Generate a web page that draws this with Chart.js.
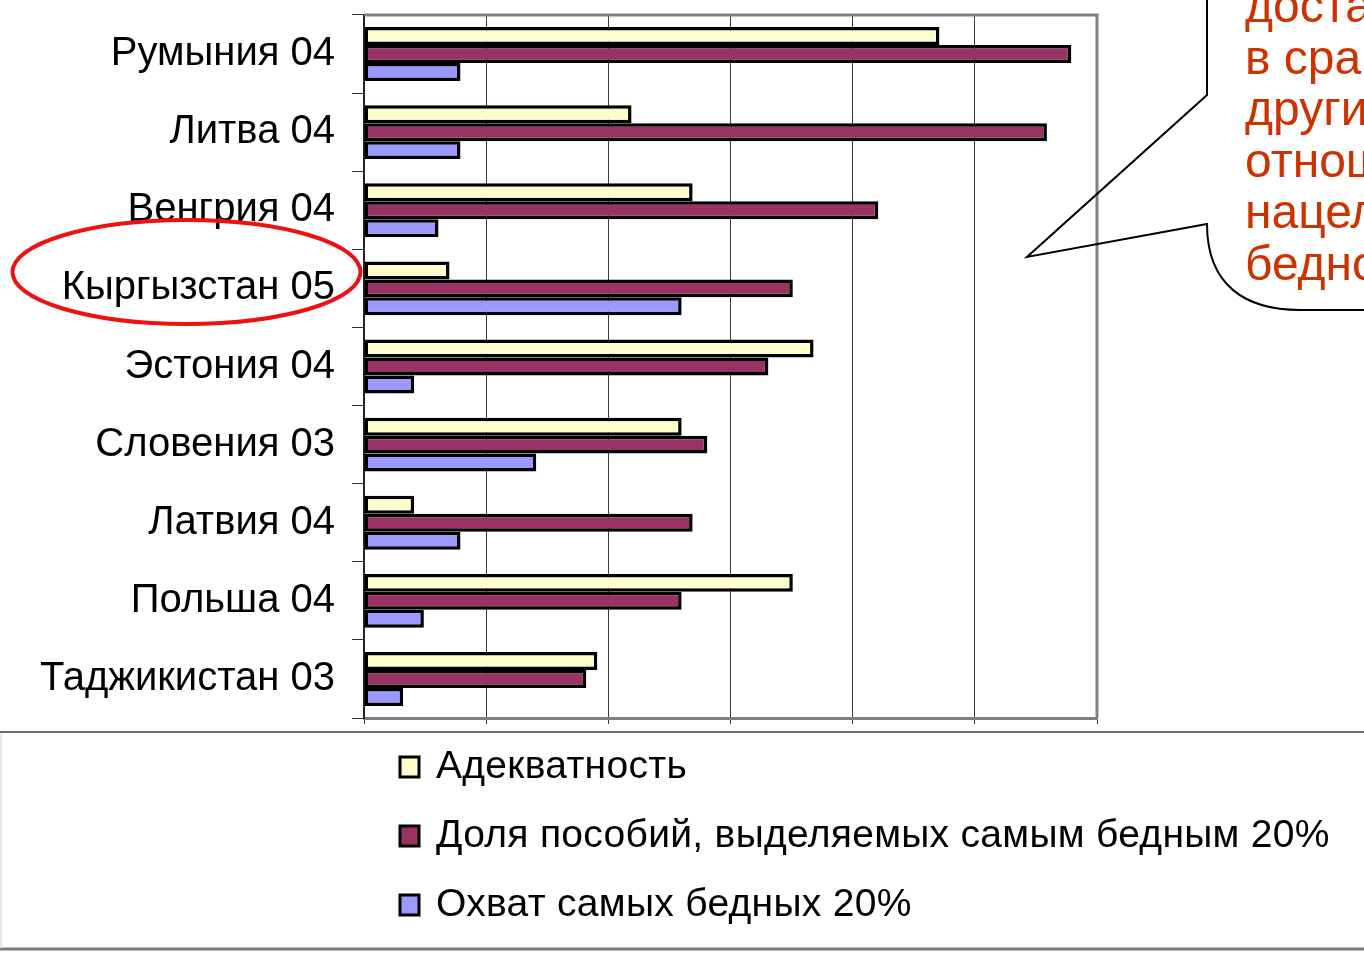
<!DOCTYPE html>
<html>
<head>
<meta charset="utf-8">
<script src="https://cdn.jsdelivr.net/npm/chart.js@4"></script>
<style>
html,body{margin:0;padding:0;background:#fff;}
#wrap{position:relative;width:1364px;height:954px;}
</style>
</head>
<body>
<div id="wrap"><canvas id="c" width="1364" height="954"></canvas></div>
<script>
const categories = ["Румыния 04","Литва 04","Венгрия 04","Кыргызстан 05","Эстония 04","Словения 03","Латвия 04","Польша 04","Таджикистан 03"];
const seriesNames = ["Адекватность","Доля пособий, выделяемых самым бедным 20%","Охват самых бедных 20%"];
const adequacy = [47.1, 21.9, 26.9, 7.0, 36.8, 26.0, 4.1, 35.1, 19.1];
const shareToPoorest = [57.9, 55.9, 42.1, 35.1, 33.1, 28.1, 26.9, 26.0, 18.2];
const coveragePoorest = [7.9, 7.9, 6.1, 26.0, 4.1, 14.1, 7.9, 4.9, 3.2];
const xMin = 0, xMax = 60, xStep = 10;
const calloutLines = ["достаточно высокой","в сравнении с","другими странами","отношении","нацеленности на","бедного населения"];

const colors = ["#FFFFCC","#993366","#9999FF"];
const FONT = "'Liberation Sans', Arial, sans-serif";

const decor = {
  id: 'decor',
  afterDraw(chart) {
    const ctx = chart.ctx;
    const a = chart.chartArea;
    ctx.save();
    // plot frame top & right
    ctx.strokeStyle = '#808080';
    ctx.lineWidth = 3;
    ctx.beginPath();
    ctx.moveTo(a.left, a.top);
    ctx.lineTo(a.right, a.top);
    ctx.lineTo(a.right, a.bottom);
    ctx.stroke();

    // legend box lines
    ctx.strokeStyle = '#6e6e6e';
    ctx.lineWidth = 2;
    ctx.beginPath(); ctx.moveTo(0, 732); ctx.lineTo(1364, 732); ctx.stroke();
    ctx.lineWidth = 3;
    ctx.strokeStyle = '#7a7a7a';
    ctx.beginPath(); ctx.moveTo(0, 949); ctx.lineTo(1364, 949); ctx.stroke();
    ctx.strokeStyle = '#e6e6e6';
    ctx.lineWidth = 2;
    ctx.beginPath(); ctx.moveTo(1, 733); ctx.lineTo(1, 948); ctx.stroke();

    // legend items
    const ys = [767, 836, 905];
    chart.data.datasets.forEach((ds, i) => {
      const y = ys[i];
      ctx.fillStyle = ds.backgroundColor;
      ctx.fillRect(400, y - 10, 19, 20);
      ctx.strokeStyle = '#000';
      ctx.lineWidth = 3;
      ctx.strokeRect(400, y - 10, 19, 20);
      ctx.fillStyle = '#000';
      ctx.font = '39px ' + FONT;
      ctx.letterSpacing = '0.3px';
      ctx.textBaseline = 'middle';
      ctx.textAlign = 'left';
      ctx.fillText(ds.label, 436, y);
      ctx.letterSpacing = '0px';
    });

    // callout bubble
    ctx.strokeStyle = '#000';
    ctx.lineWidth = 2;
    ctx.beginPath();
    ctx.moveTo(1207, -5);
    ctx.lineTo(1207, 95);
    ctx.lineTo(1027, 257);
    ctx.lineTo(1207, 224);
    ctx.bezierCurveTo(1207, 285, 1245, 310, 1300, 310);
    ctx.lineTo(1370, 310);
    ctx.stroke();

    ctx.fillStyle = '#CC3300';
    ctx.font = '48px ' + FONT;
    ctx.textAlign = 'left';
    ctx.textBaseline = 'alphabetic';
    calloutLines.forEach((t, i) => {
      ctx.fillText(t, 1245, 22 + i * 51.6);
    });

    // red ellipse
    ctx.strokeStyle = '#EE1111';
    ctx.lineWidth = 4;
    ctx.beginPath();
    ctx.ellipse(186.5, 272, 174, 52, 0, 0, Math.PI * 2);
    ctx.stroke();
    ctx.restore();
  }
};

new Chart(document.getElementById('c'), {
  type: 'bar',
  data: {
    labels: categories,
    datasets: [
      { label: seriesNames[0], data: adequacy, backgroundColor: colors[0] },
      { label: seriesNames[1], data: shareToPoorest, backgroundColor: colors[1] },
      { label: seriesNames[2], data: coveragePoorest, backgroundColor: colors[2] }
    ].map(d => Object.assign(d, { borderColor: '#000', borderWidth: 3.5, borderSkipped: false, categoryPercentage: 0.69, barPercentage: 1 }))
  },
  options: {
    indexAxis: 'y',
    responsive: false,
    animation: false,
    devicePixelRatio: 1,
    layout: { padding: { top: 15, right: 267, left: 0, bottom: 0 } },
    plugins: { legend: { display: false }, tooltip: { enabled: false } },
    scales: {
      x: {
        type: 'linear', min: xMin, max: xMax,
        ticks: { stepSize: xStep, display: false },
        grid: { color: '#3a3a3a', lineWidth: 1, tickLength: 6, drawTicks: true },
        border: { color: '#808080', width: 3 },
        afterFit(s) { s.height = 236; s.paddingLeft = 0; s.paddingRight = 0; }
      },
      y: {
        type: 'category',
        ticks: { color: '#000', font: { family: FONT, size: 40 }, padding: 17 },
        grid: { drawOnChartArea: false, drawTicks: true, tickLength: 12, color: '#333', offset: true },
        border: { color: '#222', width: 2 },
        afterFit(s) { s.width = 364; s.paddingTop = 0; s.paddingBottom = 0; }
      }
    }
  },
  plugins: [decor]
});
</script>
</body>
</html>
